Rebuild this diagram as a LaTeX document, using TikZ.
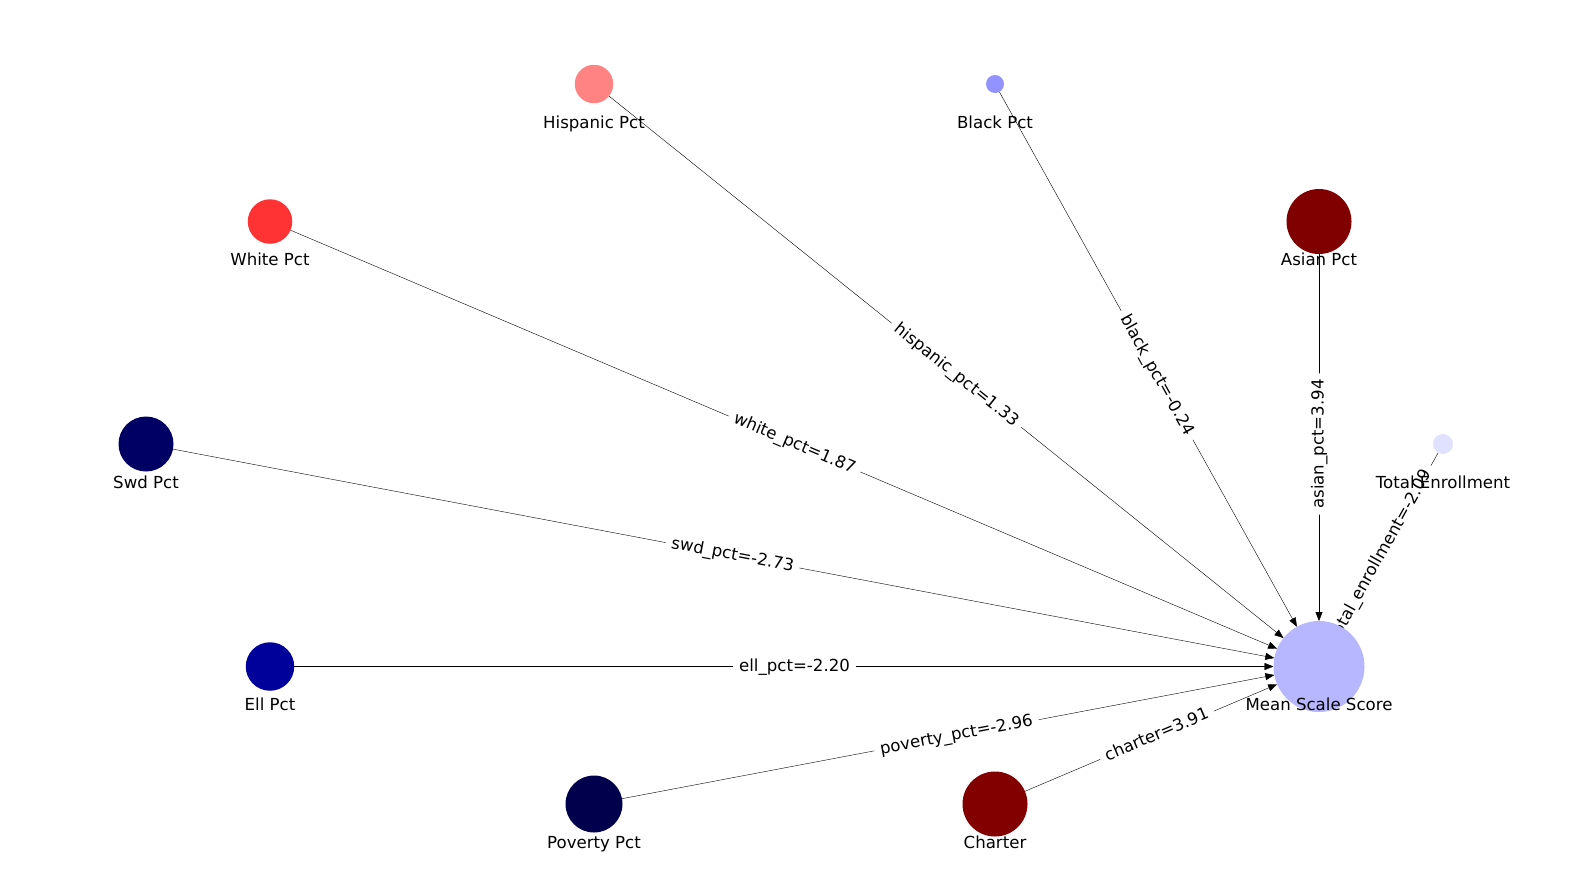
\documentclass[tikz,border=0pt]{standalone}
\usepackage{fontspec}
\setmainfont{DejaVu Sans}
\usetikzlibrary{arrows.meta,backgrounds}

\definecolor{tecol}{RGB}{224,224,255}
\definecolor{asiancol}{RGB}{128,0,0}
\definecolor{blackcol}{RGB}{147,147,255}
\definecolor{hispcol}{RGB}{255,131,131}
\definecolor{whitecol}{RGB}{255,51,51}
\definecolor{swdcol}{RGB}{0,0,100}
\definecolor{ellcol}{RGB}{0,0,155}
\definecolor{povcol}{RGB}{0,0,77}
\definecolor{chartercol}{RGB}{130,0,0}
\definecolor{msscol}{RGB}{183,183,255}

\tikzset{every picture/.style={line width=1.5pt}}
\tikzset{
  varnode/.style={circle, draw=none, inner sep=0pt, outer sep=0pt, minimum size=#1},
  nlabel/.style={font=\fontsize{16.6}{20}\selectfont, text height=12.6pt, text depth=3.5pt, inner sep=0pt},
  elabel/.style={nlabel, fill=white, rounded corners=5pt, inner xsep=6pt, inner ysep=5pt, sloped},
  link/.style={-{Triangle[length=9pt,width=7pt]}}
}

\begin{document}
\begin{tikzpicture}[x=1pt,y=1pt]
    \useasboundingbox (0,0) rectangle (1589,-889);
    % variables on an ellipse, target at lower right
    \foreach \nm/\px/\py/\sz/\col/\txt in {
        te/1443/444/20/tecol/Total Enrollment,
        asian/1319/221.5/65/asiancol/Asian Pct,
        black/995/84/18/blackcol/Black Pct,
        hisp/594/84/38.5/hispcol/Hispanic Pct,
        white/270/221.5/44.5/whitecol/White Pct,
        swd/146/444/55/swdcol/Swd Pct,
        ell/270/666.5/48.5/ellcol/Ell Pct,
        pov/594/804/57/povcol/Poverty Pct,
        charter/995/804/65/chartercol/Charter,
        mss/1319/666.5/91/msscol/Mean Scale Score}
    {
        \node [varnode=\sz pt, fill=\col] (\nm) at (\px,-\py) {};
        \node [nlabel] (\nm-lbl) at (\px,-\py-39.5) {\txt};
    }
    % edges and their weights behind the circles
    \begin{scope}[on background layer]
        \foreach \src in {hisp,black,white,asian,swd,te,ell,pov,charter}
            \draw [link] (\src) -- (mss);
        \foreach \src/\txt in {
            hisp/hispanic\_pct=1.33,
            black/black\_pct=-0.24,
            white/white\_pct=1.87,
            asian/asian\_pct=3.94,
            swd/swd\_pct=-2.73,
            te/total\_enrollment=-2.09,
            ell/ell\_pct=-2.20,
            pov/poverty\_pct=-2.96,
            charter/charter=3.91}
            \path (mss.center) -- (\src.center) node [elabel, midway] (\src-w) {\txt};
    \end{scope}
\end{tikzpicture}
\end{document}
